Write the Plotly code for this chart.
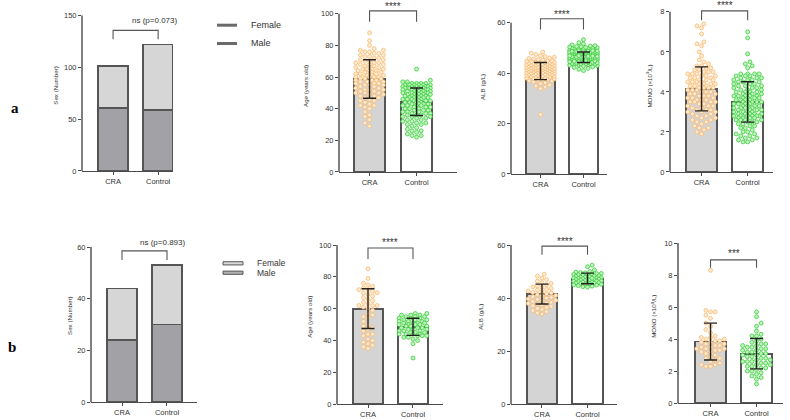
import plotly.graph_objects as go

W, H = 790, 420
FONT = "Arial, Liberation Sans, sans-serif"

# ---------------- data ----------------
CATEGORIES = ["CRA", "Control"]

# Row a
SEX_A_MALE = [61, 59]
SEX_A_FEMALE = [40, 63]

AGE_A_CRA = [88, 83, 80, 78, 77, 77, 76, 76, 75, 75,
             74, 74, 73, 73, 72, 72, 71, 71, 70, 70,
             69, 69, 69, 68, 68, 68, 67, 67, 66, 66, 66, 65, 65, 65, 65,
             64, 64, 64, 63, 63, 63, 62, 62, 62, 62, 61, 61, 61, 60, 60, 60, 60, 60,
             59, 59, 59, 58, 58, 58, 57, 57, 57, 56, 56, 56, 55, 55, 55,
             54, 54, 53, 53, 52, 52, 52, 51, 51, 50, 50, 50,
             49, 49, 48, 48, 47, 47, 46, 45, 45,
             44, 43, 42, 42, 41, 40,
             38, 36, 35, 33, 31, 29]
AGE_A_CTRL = [65,
              58, 57, 57, 56, 56, 56, 56, 55, 55, 55, 55, 55, 55, 55,
              54, 54, 54, 54, 54, 54, 53, 53, 53, 53, 53, 53, 53,
              52, 52, 52, 52, 52, 52, 51, 51, 51, 51, 51, 50, 50, 50, 50, 50, 50,
              49, 49, 49, 49, 49, 48, 48, 48, 48, 48, 47, 47, 47, 47, 47,
              46, 46, 46, 46, 46, 45, 45, 45, 45,
              44, 44, 44, 44, 43, 43, 43, 43, 42, 42, 42, 42, 41, 41, 41, 40, 40, 40,
              39, 39, 39, 38, 38, 38, 37, 37, 37, 36, 36, 36, 35, 35, 35,
              34, 34, 33, 33, 32, 32, 31, 31, 30, 30,
              29, 28, 27, 26, 26, 25, 24, 23, 23, 22]
AGE_A_MEAN = [58.8, 44.4]
AGE_A_SD = [12.2, 8.7]

ALB_A_CRA = [23.6, 33.8, 34.5, 34.9, 35.3, 35.8, 36.2, 36.5, 36.9,
             37.0, 37.2, 37.4, 37.5, 37.7, 37.8, 38.0, 38.1, 38.3, 38.4, 38.6, 38.7, 38.8, 38.9,
             39.0, 39.1, 39.2, 39.3, 39.4, 39.5, 39.6, 39.7, 39.8, 39.9,
             40.0, 40.1, 40.2, 40.3, 40.4, 40.5, 40.6, 40.7, 40.8, 40.9,
             41.0, 41.0, 41.1, 41.2, 41.2, 41.3, 41.4, 41.5, 41.5, 41.6, 41.7, 41.8, 41.8, 41.9,
             42.0, 42.0, 42.1, 42.2, 42.3, 42.3, 42.4, 42.5, 42.6, 42.7, 42.8, 42.9, 42.9,
             43.0, 43.1, 43.2, 43.3, 43.4, 43.5, 43.6, 43.7, 43.8, 43.9,
             44.0, 44.1, 44.2, 44.3, 44.4, 44.5, 44.6, 44.7, 44.8, 44.9,
             45.1, 45.3, 45.6, 45.8, 46.0, 46.3, 46.6, 46.9, 47.4, 47.9, 48.4]
ALB_A_CTRL = [53.3, 51.2, 51.6, 52.1,
              49.0, 49.1, 49.2, 49.3, 49.4, 49.5, 49.6, 49.7, 49.8, 49.9,
              50.0, 50.1, 50.2, 50.4, 50.5, 50.6, 50.8, 50.9,
              47.0, 47.1, 47.1, 47.2, 47.2, 47.3, 47.3, 47.4, 47.4, 47.5, 47.5,
              47.6, 47.6, 47.7, 47.7, 47.8, 47.8, 47.9, 47.9,
              48.0, 48.0, 48.1, 48.1, 48.2, 48.2, 48.3, 48.3, 48.4, 48.4,
              48.5, 48.5, 48.6, 48.6, 48.7, 48.7, 48.8, 48.9, 48.9,
              45.0, 45.1, 45.1, 45.2, 45.2, 45.3, 45.3, 45.4, 45.4, 45.5, 45.5,
              45.6, 45.6, 45.7, 45.7, 45.8, 45.8, 45.9, 45.9,
              46.0, 46.0, 46.1, 46.1, 46.2, 46.2, 46.3, 46.3, 46.4, 46.4, 46.5, 46.5,
              46.6, 46.7, 46.8, 46.9, 46.9,
              43.0, 43.1, 43.2, 43.3, 43.4, 43.5, 43.6, 43.7, 43.8, 43.9,
              44.0, 44.1, 44.2, 44.3, 44.4, 44.5, 44.6, 44.7, 44.8, 44.9,
              41.0, 41.5, 41.9, 42.2, 42.5, 42.8]
ALB_A_MEAN = [40.8, 46.3]
ALB_A_SD = [3.4, 2.1]

MONO_A_CRA = [7.4, 7.3, 7.2, 6.9, 6.5, 6.4, 6.3, 6.0, 5.8, 5.6, 5.5,
              5.4, 5.3, 5.3, 5.2, 5.2, 5.1, 5.1, 5.0, 5.0, 5.0,
              4.9, 4.9, 4.9, 4.8, 4.8, 4.8, 4.7, 4.7, 4.7, 4.6, 4.6, 4.6, 4.5, 4.5, 4.5, 4.5,
              4.4, 4.4, 4.4, 4.4, 4.3, 4.3, 4.3, 4.3, 4.2, 4.2, 4.2, 4.2, 4.1, 4.1, 4.1, 4.0, 4.0, 4.0,
              3.9, 3.9, 3.9, 3.8, 3.8, 3.8, 3.7, 3.7, 3.7, 3.6, 3.6, 3.6, 3.5, 3.5, 3.5, 3.5,
              3.4, 3.4, 3.3, 3.3, 3.3, 3.2, 3.2, 3.1, 3.1, 3.1, 3.0, 3.0, 3.0,
              2.9, 2.9, 2.8, 2.8, 2.7, 2.7, 2.6, 2.6, 2.5, 2.5,
              2.4, 2.3, 2.2, 2.2, 2.1, 2.0, 1.9]
MONO_A_CTRL = [7.0, 6.7, 5.9, 5.5, 5.4, 5.3, 5.2,
               4.9, 4.9, 4.9, 4.9, 4.8, 4.8, 4.8, 4.7, 4.7, 4.7, 4.6, 4.6, 4.6, 4.5, 4.5, 4.5,
               4.4, 4.4, 4.4, 4.3, 4.3, 4.3, 4.2, 4.2, 4.2, 4.1, 4.1, 4.1, 4.0, 4.0, 4.0, 4.0,
               3.9, 3.9, 3.9, 3.9, 3.8, 3.8, 3.8, 3.8, 3.8, 3.7, 3.7, 3.7, 3.7,
               3.6, 3.6, 3.6, 3.6, 3.5, 3.5, 3.5, 3.5, 3.5,
               3.4, 3.4, 3.4, 3.4, 3.3, 3.3, 3.3, 3.3, 3.2, 3.2, 3.2, 3.2,
               3.1, 3.1, 3.1, 3.1, 3.0, 3.0, 3.0, 3.0,
               2.9, 2.9, 2.9, 2.9, 2.9, 2.8, 2.8, 2.8, 2.8, 2.8, 2.8,
               2.7, 2.7, 2.7, 2.7, 2.6, 2.6, 2.6, 2.6, 2.5, 2.5, 2.5,
               2.4, 2.4, 2.3, 2.3, 2.2, 2.2, 2.1, 2.0, 2.0,
               1.9, 1.9, 1.8, 1.8, 1.7, 1.7, 1.6, 1.6, 1.5, 1.5]
MONO_A_MEAN = [4.15, 3.50]
MONO_A_SD = [1.10, 1.01]

# Row b
SEX_B_MALE = [24, 30]
SEX_B_FEMALE = [20, 23]

AGE_B_CRA = [85, 79, 76, 75, 74, 73, 72, 72, 71, 70, 70, 69, 68, 67, 66, 65, 64, 63,
             62, 62, 62, 61, 60, 59, 57, 56, 55, 54, 52, 50, 49, 48, 47, 46,
             44, 44, 43, 41, 40, 39, 38, 37, 36, 35]
AGE_B_CTRL = [57, 57, 56, 56, 56, 55, 55, 55, 54, 54, 54, 53, 53, 53, 52, 52, 52,
              51, 51, 51, 51, 50, 50, 50, 50, 49, 49, 49, 48, 48, 48, 47, 47, 47,
              46, 46, 46, 45, 45, 45, 44, 44, 44, 44, 43, 43, 43, 42, 42, 41, 40, 38, 29]
AGE_B_MEAN = [60.0, 48.6]
AGE_B_SD = [12.5, 5.4]

ALB_B_CRA = [49.0, 48.3, 47.5, 47.0, 46.4, 45.8, 45.5, 45.0, 44.6, 44.2, 44.0, 43.6,
             43.3, 43.0, 42.7, 42.4, 42.1, 41.9, 41.6, 41.3, 41.0, 40.8, 40.5, 40.2,
             40.0, 39.7, 39.5, 39.2, 39.0, 38.7, 38.4, 38.2, 38.0, 37.7, 37.4, 37.1,
             36.8, 36.5, 36.1, 35.7, 35.3, 34.9, 34.4, 34.0]
ALB_B_CTRL = [52.4, 51.8, 50.6, 50.0, 49.8, 49.6, 49.5, 49.3, 49.2, 49.0,
              48.9, 48.8, 48.6, 48.5, 48.4, 48.3, 48.2, 48.0,
              47.9, 47.8, 47.7, 47.6, 47.5, 47.4, 47.3, 47.2, 47.1, 47.0,
              46.9, 46.8, 46.7, 46.6, 46.5, 46.4, 46.3, 46.2, 46.1, 46.0,
              45.9, 45.8, 45.7, 45.6, 45.5, 45.4, 45.3, 45.2, 45.0,
              44.9, 44.7, 44.5, 44.3, 44.1, 47.5]
ALB_B_MEAN = [41.5, 47.4]
ALB_B_SD = [3.75, 2.0]

MONO_B_CRA = [8.3, 5.8, 5.7, 5.7, 5.5, 5.3, 5.0, 4.8, 4.6, 4.4, 4.2, 4.1, 4.1, 4.0, 4.0,
              3.9, 3.9, 3.8, 3.8, 3.7, 3.7, 3.6, 3.6, 3.5, 3.5, 3.4, 3.4, 3.4, 3.3, 3.3,
              3.2, 3.2, 3.1, 3.0, 2.9, 2.8, 2.8, 2.7, 2.6, 2.5, 2.4, 2.4, 2.3, 2.3]
MONO_B_CTRL = [5.7, 5.4, 5.0, 4.8, 4.5, 4.3, 4.2, 4.2, 4.0,
               3.9, 3.8, 3.7, 3.7, 3.6, 3.6, 3.5, 3.5, 3.4, 3.4, 3.3, 3.3, 3.2, 3.2,
               3.1, 3.1, 3.0, 3.0,
               2.9, 2.9, 2.8, 2.8, 2.7, 2.7, 2.6, 2.6, 2.6, 2.5, 2.5, 2.4, 2.4,
               2.3, 2.3, 2.2, 2.2, 2.1, 2.0, 2.0,
               1.9, 1.8, 1.7, 1.6, 1.5, 1.2]
MONO_B_MEAN = [3.85, 3.09]
MONO_B_SD = [1.15, 0.95]

SIG_A = ["ns (p=0.073)", "****", "****", "****"]
SIG_B = ["ns (p=0.893)", "****", "****", "***"]
Y_TITLES = ["Sex (Number)", "Age (years old)", "ALB (g/L)", "MONO (×10<sup>9</sup>/L)"]
LEGEND_LABELS = ["Female", "Male"]
ROW_LABELS = ["a", "b"]

# ---------------- layout geometry (pixels) ----------------
PANELS = [
    dict(kind="sex", male=SEX_A_MALE, female=SEX_A_FEMALE, x0=82, x1=173, ybot=173, ymax_px=15.7, top_px=0,
         maxtick=150, dtick=50, xr=(-0.69, 1.33), standoff=4, title=Y_TITLES[0],
         sig=SIG_A[0], br=(135.7, 127.0), lab=(0.91, 145.0), labsize=8),
    dict(kind="dot", groups=(AGE_A_CRA, AGE_A_CTRL), mean=AGE_A_MEAN, sd=AGE_A_SD, x0=339, x1=457, ybot=174,
         ymax_px=14, top_px=0, maxtick=100, dtick=20, xr=(-0.65, 1.86), standoff=11, title=Y_TITLES[1],
         sig=SIG_A[1], br=(101.9, 95.0), lab=(0.5, 104.5), labsize=10),
    dict(kind="dot", groups=(ALB_A_CRA, ALB_A_CTRL), mean=ALB_A_MEAN, sd=ALB_A_SD, x0=511, x1=607, ybot=176,
         ymax_px=23, top_px=0, maxtick=60, dtick=20, xr=(-0.686, 1.547), standoff=10, title=Y_TITLES[2],
         sig=SIG_A[2], br=(61.6, 57.3), lab=(0.5, 63.4), labsize=10),
    dict(kind="dot", groups=(MONO_A_CRA, MONO_A_CTRL), mean=MONO_A_MEAN, sd=MONO_A_SD, x0=670, x1=773,
         ybot=174, ymax_px=12, top_px=0, maxtick=8, dtick=2, xr=(-0.685, 1.55), standoff=7, title=Y_TITLES[3],
         sig=SIG_A[3], br=(8.05, 7.58), lab=(0.5, 8.33), labsize=10),
    dict(kind="sex", male=SEX_B_MALE, female=SEX_B_FEMALE, x0=91, x1=197, ybot=407, ymax_px=250, top_px=232,
         maxtick=60, dtick=20, xr=(-0.689, 1.667), standoff=3, title=Y_TITLES[0],
         sig=SIG_B[0], br=(58.5, 55.0), lab=(0.89, 61.9), labsize=8),
    dict(kind="dot", groups=(AGE_B_CRA, AGE_B_CTRL), mean=AGE_B_MEAN, sd=AGE_B_SD, x0=337, x1=443, ybot=409,
         ymax_px=248, top_px=232, maxtick=100, dtick=20, xr=(-0.689, 1.667), standoff=5, title=Y_TITLES[1],
         sig=SIG_B[1], br=(98.1, 91.3), lab=(0.5, 101.9), labsize=10),
    dict(kind="dot", groups=(ALB_B_CRA, ALB_B_CTRL), mean=ALB_B_MEAN, sd=ALB_B_SD, x0=511, x1=617, ybot=409,
         ymax_px=248, top_px=232, maxtick=60, dtick=20, xr=(-0.681, 1.648), standoff=12, title=Y_TITLES[2],
         sig=SIG_B[2], br=(59.6, 56.3), lab=(0.5, 61.5), labsize=10),
    dict(kind="dot", groups=(MONO_B_CRA, MONO_B_CTRL), mean=MONO_B_MEAN, sd=MONO_B_SD, x0=678, x1=783,
         ybot=408, ymax_px=246, top_px=232, maxtick=10, dtick=2, xr=(-0.707, 1.576), standoff=6,
         title=Y_TITLES[3], sig=SIG_B[3], br=(8.95, 8.46), lab=(0.5, 9.32), labsize=10),
]

AXIS_COLOR = "#4a4a4a"
TEXT_COLOR = "#333333"
BAR_W = 0.67
DOT_D = 3.9          # marker diameter (px)
DOT_GAP = 4.6        # centre-to-centre spacing in the swarm (px)
DOT_STYLE = [dict(fill="rgba(255,236,208,1)", line="#F6BA74"),
             dict(fill="rgba(190,246,190,1)", line="#3CCB3C")]


def swarm(vals, ypu, d=DOT_GAP, max_px=16.0):
    """Beeswarm horizontal offsets (pixels) so that dots do not overlap."""
    order = sorted(range(len(vals)), key=lambda i: vals[i])
    step = d * 0.5
    base = [0.0]
    k = 1
    while k * step <= max_px:
        base += [k * step, -k * step]
        k += 1
    placed, offs = [], [0.0] * len(vals)
    flip = 1
    for i in order:
        y = vals[i] * ypu
        near = [(px, py) for px, py in placed if abs(py - y) < d]
        cands = [c * flip for c in base]
        flip = -flip
        best, best_c, best_md = None, 0.0, -1
        for c in cands:
            md = min(((c - px) ** 2 + (y - py) ** 2) ** 0.5 for px, py in near) if near else 1e9
            if md >= d * 0.92:
                best = c
                break
            if md > best_md:
                best_md, best_c = md, c
        if best is None:
            best = best_c
        placed.append((best, y))
        offs[i] = best
    return offs


fig = go.Figure()
shapes, annotations = [], []
layout = {}
xs = list(range(len(CATEGORIES)))

for n, p in enumerate(PANELS, start=1):
    xa = "x" if n == 1 else f"x{n}"
    ya = "y" if n == 1 else f"y{n}"
    xk = "xaxis" if n == 1 else f"xaxis{n}"
    yk = "yaxis" if n == 1 else f"yaxis{n}"
    ypu = (p["ybot"] - p["ymax_px"]) / p["maxtick"]
    xpu = (p["x1"] - p["x0"]) / (p["xr"][1] - p["xr"][0])
    rtop = (p["ybot"] - p["top_px"]) / ypu

    if p["kind"] == "sex":
        fig.add_trace(go.Bar(x=xs, y=p["male"], width=BAR_W, xaxis=xa, yaxis=ya, showlegend=False,
                             marker=dict(color="#A2A2A6", line=dict(color="#555555", width=1.6))))
        fig.add_trace(go.Bar(x=xs, y=p["female"], width=BAR_W, xaxis=xa, yaxis=ya, showlegend=False,
                             marker=dict(color="#D6D6D6", line=dict(color="#555555", width=1.6))))
    else:
        fig.add_trace(go.Bar(x=xs, y=p["mean"], width=BAR_W, xaxis=xa, yaxis=ya, showlegend=False,
                             marker=dict(color=["#D4D4D4", "#FFFFFF"], line=dict(color="#555555", width=1.8))))
        for g, vals in enumerate(p["groups"]):
            offs = swarm(vals, ypu)
            fig.add_trace(go.Scatter(
                x=[g + o / xpu for o in offs], y=vals, mode="markers", xaxis=xa, yaxis=ya,
                showlegend=False, cliponaxis=False,
                marker=dict(size=DOT_D, color=DOT_STYLE[g]["fill"],
                            line=dict(color=DOT_STYLE[g]["line"], width=0.8))))
        fig.add_trace(go.Scatter(
            x=xs, y=p["mean"], mode="markers", xaxis=xa, yaxis=ya, showlegend=False,
            marker=dict(size=2, opacity=0),
            error_y=dict(type="data", array=p["sd"], visible=True, color="#222222",
                         thickness=1.4, width=6.5)))

    layout[xk] = dict(domain=[p["x0"] / W, p["x1"] / W], anchor=ya, range=list(p["xr"]),
                      tickvals=xs, ticktext=CATEGORIES, ticks="outside", ticklen=3, tickwidth=1.1,
                      tickcolor=AXIS_COLOR, showline=True, linecolor=AXIS_COLOR, linewidth=1.4,
                      showgrid=False, zeroline=False, fixedrange=True,
                      tickfont=dict(size=7.5, color=TEXT_COLOR, family=FONT))
    layout[yk] = dict(domain=[1 - p["ybot"] / H, 1 - p["top_px"] / H], anchor=xa, range=[0, rtop],
                      tickvals=list(range(0, p["maxtick"] + 1, p["dtick"])), ticks="outside",
                      ticklen=3, tickwidth=1.1, tickcolor=AXIS_COLOR, showline=False,
                      showgrid=False, zeroline=False, fixedrange=True,
                      tickfont=dict(size=7.5, color=TEXT_COLOR, family=FONT),
                      title=dict(text=p["title"], standoff=p["standoff"],
                                 font=dict(size=6.2, color=TEXT_COLOR, family=FONT)))
    shapes.append(dict(type="line", xref=f"{xa} domain", yref=f"{ya} domain", x0=0, x1=0,
                       y0=0, y1=p["maxtick"] / rtop, line=dict(color=AXIS_COLOR, width=1.4)))
    ytop, yleg = p["br"]
    shapes.append(dict(type="path", xref=xa, yref=ya,
                       path=f"M 0,{yleg} L 0,{ytop} L 1,{ytop} L 1,{yleg}",
                       line=dict(color="#555555", width=1.1)))
    annotations.append(dict(x=p["lab"][0], y=p["lab"][1], xref=xa, yref=ya, text=p["sig"],
                            showarrow=False, xanchor="center", yanchor="middle",
                            font=dict(size=p["labsize"], color=TEXT_COLOR, family=FONT)))

for i, lab in enumerate(LEGEND_LABELS):
    ypx = 25.5 + 18.5 * i
    shapes.append(dict(type="line", xref="paper", yref="paper", x0=217 / W, x1=237 / W,
                       y0=1 - ypx / H, y1=1 - ypx / H, line=dict(color="#6a6a6a", width=3)))
    annotations.append(dict(x=249 / W, y=1 - ypx / H, xref="paper", yref="paper", text=lab,
                            showarrow=False, xanchor="left", yanchor="middle",
                            font=dict(size=9, color=TEXT_COLOR, family=FONT)))
for i, lab in enumerate(LEGEND_LABELS):
    ypx = 266.5 + 9.5 * i
    shapes.append(dict(type="rect", xref="paper", yref="paper", x0=223 / W, x1=243 / W,
                       y0=1 - (ypx + 1.6) / H, y1=1 - (ypx - 1.6) / H,
                       fillcolor="#DADADA" if i == 0 else "#B2B2B2",
                       line=dict(color="#555555", width=1)))
    annotations.append(dict(x=255 / W, y=1 - ypx / H, xref="paper", yref="paper", text=lab,
                            showarrow=False, xanchor="left", yanchor="middle",
                            font=dict(size=8.5, color=TEXT_COLOR, family=FONT)))

for lab, (lx, ly) in zip(ROW_LABELS, [(15, 109), (12, 351)]):
    annotations.append(dict(x=lx / W, y=1 - ly / H, xref="paper", yref="paper",
                            text=f"<b>{lab}</b>", showarrow=False, xanchor="center", yanchor="middle",
                            font=dict(size=15, color="#000000", family="Liberation Serif, Times New Roman, serif")))

fig.update_layout(width=W, height=H, margin=dict(l=0, r=0, t=0, b=0),
                  paper_bgcolor="white", plot_bgcolor="white", barmode="stack",
                  showlegend=False, shapes=shapes, annotations=annotations, **layout)

fig.write_html("out.html", config={"displayModeBar": False},
               post_script="document.body.style.margin='0';document.body.style.overflow='hidden';")
